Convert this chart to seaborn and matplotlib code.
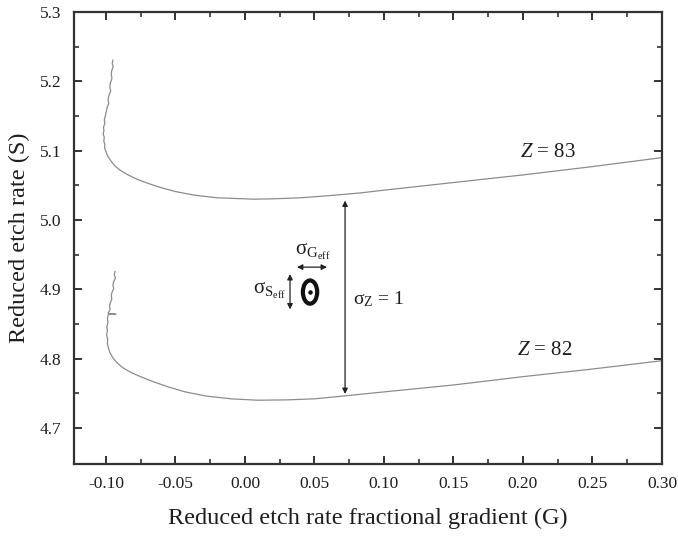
import numpy as np
import pandas as pd
import matplotlib
matplotlib.use("Agg")
import matplotlib.pyplot as plt
from matplotlib.patches import Ellipse
import seaborn as sns

# ---- data ----
G83 = [-0.0950, -0.0955, -0.0948, -0.0958, -0.0962, -0.0957, -0.0968, -0.0972, -0.0966, -0.0978,
       -0.0985, -0.0980, -0.0992, -0.0998, -0.1005, -0.1012, -0.1008, -0.1018, -0.1015, -0.1020,
       -0.1012, -0.1016, -0.1008, -0.1010, -0.1000, -0.0992, -0.0978, -0.0960, -0.0935, -0.0900,
       -0.0850, -0.0780, -0.0700, -0.0610, -0.0500, -0.0370, -0.0200, 0.0000, 0.0060, 0.0200,
       0.0400, 0.0600, 0.0830, 0.1000, 0.1500, 0.2000, 0.2500, 0.3000]
S83 = [5.231, 5.226, 5.221, 5.216, 5.210, 5.204, 5.198, 5.192, 5.186, 5.180,
       5.174, 5.168, 5.162, 5.156, 5.150, 5.144, 5.139, 5.134, 5.129, 5.124,
       5.119, 5.114, 5.109, 5.104, 5.099, 5.094, 5.089, 5.084, 5.078, 5.072,
       5.066, 5.059, 5.053, 5.047, 5.041, 5.036, 5.032, 5.0305, 5.030, 5.0305,
       5.032, 5.035, 5.039, 5.043, 5.054, 5.065, 5.077, 5.090]

G82 = [-0.0935, -0.0940, -0.0932, -0.0945, -0.0950, -0.0944, -0.0956, -0.0962, -0.0958, -0.0968,
       -0.0975, -0.0970, -0.0980, -0.0985, -0.0978, -0.0928, -0.0982, -0.0990, -0.0986, -0.0994,
       -0.0990, -0.0995, -0.0988, -0.0990, -0.0982, -0.0970, -0.0950, -0.0920, -0.0880, -0.0820,
       -0.0740, -0.0650, -0.0550, -0.0430, -0.0280, -0.0100, 0.0090, 0.0300, 0.0500, 0.0705,
       0.1000, 0.1500, 0.2000, 0.2500, 0.3000]
S82 = [4.926, 4.921, 4.916, 4.911, 4.906, 4.901, 4.896, 4.891, 4.886, 4.881,
       4.876, 4.871, 4.867, 4.8655, 4.8650, 4.8640, 4.864, 4.858, 4.852, 4.846,
       4.840, 4.834, 4.828, 4.822, 4.815, 4.808, 4.801, 4.794, 4.787, 4.780,
       4.773, 4.766, 4.759, 4.752, 4.746, 4.742, 4.740, 4.7405, 4.742, 4.746,
       4.752, 4.762, 4.774, 4.785, 4.797]

x_ticks = [-0.10, -0.05, 0.00, 0.05, 0.10, 0.15, 0.20, 0.25, 0.30]
y_ticks = [4.7, 4.8, 4.9, 5.0, 5.1, 5.2, 5.3]

# annotation values (data coords)
sigZ_G, sigZ_lo, sigZ_hi = 0.072, 4.749, 5.028
ell_G, ell_S, ell_w, ell_h = 0.0468, 4.896, 0.0103, 0.0335
sigS_G, sigS_lo, sigS_hi = 0.0324, 4.871, 4.922
sigG_S, sigG_lo, sigG_hi = 4.932, 0.0374, 0.0590

sns.set_theme(style="ticks")
plt.rcParams["font.family"] = ["Liberation Serif", "DejaVu Serif"]
plt.rcParams["mathtext.fontset"] = "custom"
plt.rcParams["mathtext.rm"] = "Liberation Serif"
plt.rcParams["mathtext.it"] = "Liberation Serif:italic"
plt.rcParams["mathtext.bf"] = "Liberation Serif:bold"

df = pd.concat([
    pd.DataFrame({"G": G83, "S": S83, "Z": "83"}),
    pd.DataFrame({"G": G82, "S": S82, "Z": "82"}),
])

TXT = "#1e1e1e"
fig = plt.figure(figsize=(6.78, 5.38), dpi=100)
ax = fig.add_axes([74 / 678, 1 - 464 / 538, (662 - 74) / 678, (464 - 12) / 538])

sns.lineplot(data=df, x="G", y="S", units="Z", estimator=None, sort=False,
             color="#8c8c8c", lw=0.9, ax=ax, legend=False)

ax.set_xlim(-0.123, 0.30)
ax.set_ylim(4.648, 5.30)
ax.set_xticks(x_ticks)
ax.set_xticklabels([f"{v:.2f}" for v in x_ticks])
ax.set_yticks(y_ticks)
ax.set_yticklabels([f"{v:.1f}" for v in y_ticks])
ax.set_xticks(np.array(x_ticks[:-1]) + 0.025, minor=True)
ax.set_yticks(np.array(y_ticks[:-1]) + 0.05, minor=True)

ax.tick_params(which="both", direction="in", top=True, right=True, colors="#222222",
               labelcolor=TXT, labelsize=12.5)
ax.tick_params(which="major", length=6, width=1.3, pad=9)
ax.tick_params(which="minor", length=3.5, width=1.1)
for sp in ax.spines.values():
    sp.set_linewidth(1.6)
    sp.set_color("#333333")

ax.set_xlabel("Reduced etch rate fractional gradient (G)", fontsize=17.5, labelpad=11, color=TXT)
ax.set_ylabel("Reduced etch rate (S)", fontsize=17.5, labelpad=7, color=TXT)

# curve labels
ax.text(0.198, 5.098, r"$Z$ = 83", fontsize=15, ha="left", va="center", color=TXT)
ax.text(0.196, 4.812, r"$Z$ = 82", fontsize=15, ha="left", va="center", color=TXT)

arrow_kw = dict(arrowstyle="<|-|>", color="#222222", lw=0.9, mutation_scale=8,
                shrinkA=0, shrinkB=0)
ax.annotate("", xy=(sigZ_G, sigZ_hi), xytext=(sigZ_G, sigZ_lo), arrowprops=arrow_kw)
ax.text(sigZ_G + 0.0055, 4.886, r"σ$_{\mathrm{Z}}$ = 1", fontsize=14, ha="left", va="center",
        color=TXT)

ax.add_patch(Ellipse((ell_G, ell_S), ell_w, ell_h, fill=False, lw=3, ec="#111111"))
ax.scatter([ell_G], [ell_S], s=5, color="#111111", zorder=5)

ax.annotate("", xy=(sigS_G, sigS_hi), xytext=(sigS_G, sigS_lo), arrowprops=arrow_kw)
ax.text(sigS_G - 0.0025, 4.898, r"σ$_{\mathrm{S}_{\mathrm{eff}}}$", fontsize=15, ha="right",
        va="center", color=TXT)

ax.annotate("", xy=(sigG_hi, sigG_S), xytext=(sigG_lo, sigG_S), arrowprops=arrow_kw)
ax.text(0.0485, 4.954, r"σ$_{\mathrm{G}_{\mathrm{eff}}}$", fontsize=15, ha="center", va="center",
        color=TXT)

fig.savefig("out.png", dpi=100)
